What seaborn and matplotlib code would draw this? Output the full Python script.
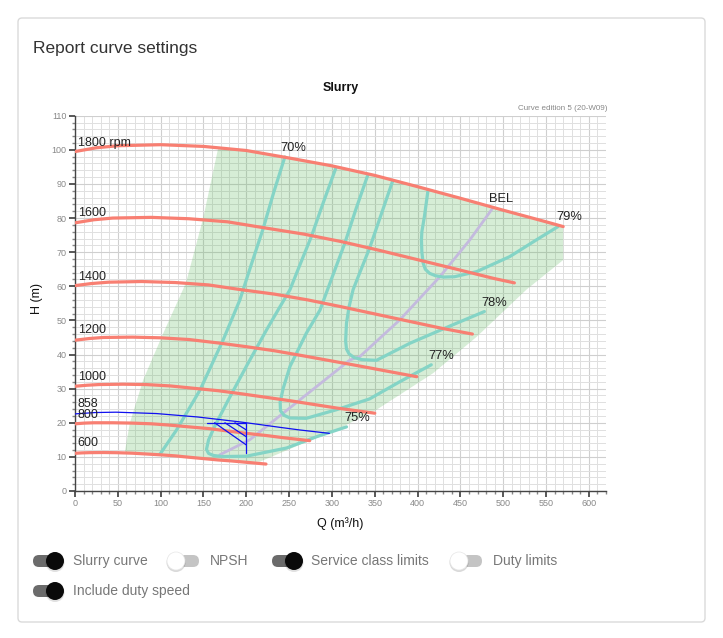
import numpy as np
import pandas as pd
import matplotlib
matplotlib.use("Agg")
import matplotlib.pyplot as plt
from matplotlib.patches import FancyBboxPatch, Circle
from matplotlib.ticker import MultipleLocator
import seaborn as sns

# ── Data ──────────────────────────────────────────────────────────────────────
speeds = ["1800 rpm", "1600", "1400", "1200", "1000", "800", "600"]
speed_q = [
    [0, 25, 50, 100, 150, 200, 250, 300, 350, 400, 450, 500, 550, 570],
    [0, 22, 44, 89, 133, 178, 222, 267, 311, 356, 400, 444, 489, 513],
    [0, 19, 39, 78, 117, 156, 194, 233, 272, 311, 350, 389, 428, 464],
    [0, 17, 33, 67, 100, 133, 167, 200, 233, 267, 300, 333, 367, 399],
    [0, 14, 28, 56, 83, 111, 139, 167, 194, 222, 250, 278, 306, 350],
    [0, 11, 22, 44, 67, 89, 111, 133, 156, 178, 200, 222, 244, 274],
    [0, 8, 17, 33, 50, 67, 83, 100, 117, 133, 150, 167, 183, 223],
]
speed_h = [
    [99.5, 100.6, 101.2, 101.5, 101.0, 99.8, 97.6, 95.3, 92.5, 89.2, 85.8, 82.3, 78.9, 77.5],
    [78.6, 79.5, 80.0, 80.2, 79.8, 78.9, 77.1, 75.3, 73.1, 70.5, 67.8, 65.1, 62.3, 61.0],
    [60.2, 60.8, 61.2, 61.4, 61.1, 60.4, 59.0, 57.7, 56.0, 54.0, 51.9, 49.8, 47.7, 46.0],
    [44.2, 44.7, 45.0, 45.1, 44.9, 44.4, 43.4, 42.3, 41.1, 39.6, 38.1, 36.6, 35.0, 33.5],
    [30.7, 31.0, 31.2, 31.3, 31.2, 30.8, 30.1, 29.4, 28.5, 27.5, 26.5, 25.4, 24.3, 22.8],
    [19.7, 19.9, 20.0, 20.0, 19.9, 19.7, 19.3, 18.8, 18.3, 17.6, 16.9, 16.3, 15.6, 14.75],
    [11.05, 11.17, 11.24, 11.28, 11.22, 11.08, 10.85, 10.6, 10.3, 9.9, 9.5, 9.1, 8.8, 7.9],
]
speed_label_h = [102.1, 81.4, 62.8, 47.2, 33.5, 22.3, 14.0]

duty_speed = "858"
duty_speed_q = [0, 24, 48, 72, 95, 119, 143, 167, 191, 215, 238, 262, 297]
duty_speed_h = [22.6, 23.0, 23.1, 22.9, 22.7, 22.2, 21.7, 21.0, 20.3, 19.5, 18.7, 17.9, 16.9]
duty_speed_label_h = 25.4

effs = ["70%", "75%", "77%", "78%", "79%"]
eff_q = [
    [99, 118.6, 146, 173, 192.5, 206, 219.8, 232, 245],
    [304.5, 290, 276, 262, 251, 237, 223.6, 200, 179, 163, 156, 153.5, 156, 162, 172, 200, 247, 282, 317],
    [342, 328, 315, 300, 286, 270, 251, 243, 239.5, 240, 244, 251, 270, 305, 344, 379, 416],
    [370.7, 357, 344, 333, 324.7, 320, 317, 316, 317, 320, 326, 335, 352, 391, 441, 478],
    [412, 408, 405, 404.5, 405, 406.5, 409, 414, 421, 430, 443, 469, 507.6, 538.7, 564],
]
eff_h = [
    [10.7, 17.9, 29.6, 44.3, 56, 66.5, 77, 87.5, 97.9],
    [94.6, 84.6, 74.6, 65.9, 59, 53, 47.2, 36.5, 26.7, 18.9, 15, 12.2, 11.0, 10.4, 10.1, 10.2, 12.6, 15.9, 18.8],
    [92.7, 82.6, 72.6, 62.5, 53, 46.2, 36.5, 30, 26, 23.5, 22.2, 21.4, 21.3, 23.8, 27, 32, 37],
    [90.7, 80.7, 71.2, 64.3, 59, 54, 49.2, 44, 41.6, 40.2, 39.1, 38.5, 38.3, 43.3, 48.7, 52.6],
    [87.8, 80.5, 76, 73.6, 70, 66.8, 65.0, 63.8, 63.1, 62.7, 62.8, 64.3, 68.7, 73.6, 77.5],
]
eff_label_q = [255.5, 329, 428, 489, 577.6]
eff_label_h = [100.6, 21.4, 39.6, 55.1, 80.4]

bel_q = [169, 204, 243, 282, 321, 332.6, 379, 426, 461, 488]
bel_h = [10.6, 15, 22.8, 30.6, 38.4, 39.4, 50.1, 62.8, 73.6, 83.0]

# service class area (boundary, walked round)
area_q = [58, 64, 79.7, 103, 126, 130, 149.7, 167, 200, 250, 300, 350, 400, 450, 500, 550, 570,
          570, 527, 469, 418, 352, 301, 262, 216, 200, 150, 100, 58]
area_h = [11.2, 19.9, 32.6, 46.2, 59, 61.4, 80, 100.3, 99.8, 97.6, 95.3, 92.5, 89.2, 85.8, 82.3, 78.9, 77.5,
          67.7, 59, 45.2, 34.5, 23.8, 17.4, 13.5, 8.6, 8.5, 9.5, 10.6, 11.2]

# duty point marker
duty_q = [153.6, 200, 200]
duty_h = [20.0, 20.0, 11.2]
hatch_q0 = [163, 175, 186.7]
hatch_h1 = [13.5, 15.9, 17.9]

toggles = ["Slurry curve", "NPSH", "Service class limits", "Duty limits", "Include duty speed"]
toggle_on = [True, False, True, False, True]

RED = "#f87f72"
TEAL = "#84d4c6"
LAV = "#c4bade"
BLUE = "#1010f0"

sns.set_theme(style="white")
plt.rcParams["font.family"] = ["Liberation Sans", "DejaVu Sans"]

fig = plt.figure(figsize=(7.23, 6.38), dpi=100)

# ── page / card layer (pixel coordinates) ─────────────────────────────────────
bg = fig.add_axes([0, 0, 1, 1])
bg.set_xlim(0, 723)
bg.set_ylim(638, 0)
bg.axis("off")
bg.add_patch(FancyBboxPatch((18, 18), 687, 604, boxstyle="round,pad=0,rounding_size=4",
                            fc="white", ec="#dadada", lw=1))
bg.text(33, 48, "Report curve settings", fontsize=12.5, color="#333333", va="center")
bg.text(341, 88, "Slurry", fontsize=9, fontweight="bold", color="#111111", ha="center", va="center")
bg.text(607, 108, "Curve edition 5 (20-W09)", fontsize=5.8, color="#888888", ha="right", va="center")
bg.text(340, 524, "Q (m³/h)", fontsize=9, color="#111111", ha="center", va="center")
bg.text(37, 298, "H (m)", fontsize=9, color="#111111", ha="center", va="center", rotation=90)

tog_x = [33, 170, 272, 453, 33]
tog_y = [561, 561, 561, 561, 591]
lab_x = [73, 210, 311, 493, 73]
for name, on, tx, ty, lx in zip(toggles, toggle_on, tog_x, tog_y, lab_x):
    track = "#6b6b6b" if on else "#c4c4c4"
    bg.add_patch(FancyBboxPatch((tx, ty - 6), 29, 12, boxstyle="round,pad=0,rounding_size=6",
                                fc=track, ec="none"))
    if on:
        kx = tx + 22
        bg.add_patch(Circle((kx, ty + 1.5), 9.5, fc="#000000", alpha=0.12, ec="none"))
        bg.add_patch(Circle((kx, ty), 9, fc="#0a0a0a", ec="none"))
    else:
        kx = tx + 6
        bg.add_patch(Circle((kx, ty + 1.5), 9.5, fc="#000000", alpha=0.15, ec="none"))
        bg.add_patch(Circle((kx, ty), 9, fc="white", ec="#e6e6e6", lw=0.5))
    bg.text(lx, ty, name, fontsize=10, color="#777777", va="center")

# ── chart ─────────────────────────────────────────────────────────────────────
ax = fig.add_axes([75 / 723, 1 - 491 / 638, 531 / 723, 375.3 / 638])
ax.set_facecolor("none")
ax.set_xlim(0, 620)
ax.set_ylim(0, 110)
ax.xaxis.set_minor_locator(MultipleLocator(10))
ax.yaxis.set_minor_locator(MultipleLocator(2))
ax.set_xticks(np.arange(0, 601, 50))
ax.set_yticks(np.arange(0, 111, 10))
ax.grid(which="major", color="#cfcfcf", lw=0.8)
ax.grid(which="minor", color="#e0e0e0", lw=0.7)
ax.set_axisbelow(True)
for s in ["top", "right"]:
    ax.spines[s].set_visible(False)
for s in ["left", "bottom"]:
    ax.spines[s].set_color("#444444")
    ax.spines[s].set_linewidth(1.0)
ax.tick_params(which="major", length=4, color="#444444", labelsize=6.5, labelcolor="#888888",
               left=True, bottom=True, pad=2)
ax.tick_params(which="minor", length=2, color="#888888", left=True, bottom=True)

ax.fill(area_q, area_h, color="#5cb85c", alpha=0.25, lw=0, zorder=1)

sns.lineplot(x=bel_q, y=bel_h, sort=False, estimator=None, color=LAV, lw=2.0, ax=ax, zorder=2)

eff_df = pd.DataFrame({
    "Q": [q for qs in eff_q for q in qs],
    "H": [h for hs in eff_h for h in hs],
    "eff": [e for e, qs in zip(effs, eff_q) for _ in qs],
})
sns.lineplot(data=eff_df, x="Q", y="H", units="eff", estimator=None, sort=False,
             color=TEAL, lw=2.3, ax=ax, legend=False, zorder=3)

speed_df = pd.DataFrame({
    "Q": [q for qs in speed_q for q in qs],
    "H": [h for hs in speed_h for h in hs],
    "speed": [s for s, qs in zip(speeds, speed_q) for _ in qs],
})
sns.lineplot(data=speed_df, x="Q", y="H", units="speed", estimator=None, sort=False,
             color=RED, lw=2.3, ax=ax, legend=False, zorder=4)

sns.lineplot(x=duty_speed_q, y=duty_speed_h, sort=False, estimator=None,
             color=BLUE, lw=0.9, ax=ax, zorder=5)
ax.plot(duty_q, duty_h, color=BLUE, lw=0.9, zorder=5)
for q0, h1 in zip(hatch_q0, hatch_h1):
    ax.plot([q0, duty_q[-1]], [duty_h[0], h1], color=BLUE, lw=0.9, zorder=5)

ax.set_xlabel("")
ax.set_ylabel("")

for name, hl in zip(speeds, speed_label_h):
    ax.text(3, hl, name, fontsize=9, color="#222222", va="center", ha="left", zorder=6)
ax.text(3, duty_speed_label_h, duty_speed, fontsize=9, color="#222222", va="center", zorder=6)
for name, lq, lh in zip(effs, eff_label_q, eff_label_h):
    ax.text(lq, lh, name, fontsize=9.3, color="#222222", va="center", ha="center", zorder=6)
ax.text(498, 85.6, "BEL", fontsize=9.3, color="#222222", va="center", ha="center", zorder=6)

fig.savefig("out.png", dpi=100, facecolor="white")
